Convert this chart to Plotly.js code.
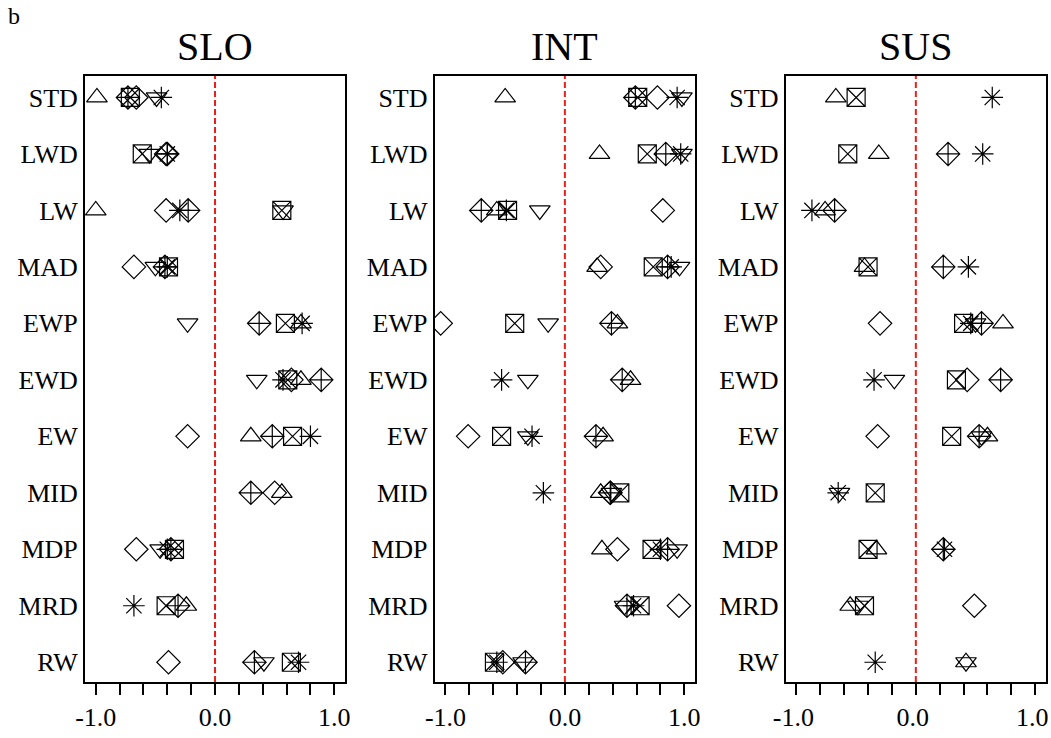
<!DOCTYPE html>
<html>
<head>
<meta charset="utf-8">
<script src="https://cdn.plot.ly/plotly-3.0.1.min.js"></script>
<style>
  html, body { margin: 0; padding: 0; background: #fff; }
  #chart { width: 1051px; height: 738px; }
</style>
</head>
<body>
<div id="chart"></div>
<script>
// Rows shown top to bottom in every panel
const categories = ['STD', 'LWD', 'LW', 'MAD', 'EWP', 'EWD', 'EW', 'MID', 'MDP', 'MRD', 'RW'];

// Panel titles
const panels = ['SLO', 'INT', 'SUS'];

// Bottom axis ticks and their labels
const tickValues = [-1.0, -0.8, -0.6, -0.4, -0.2, 0.0, 0.2, 0.4, 0.6, 0.8, 1.0];
const tickLabels = ['-1.0', '', '', '', '', '0.0', '', '', '', '', '1.0'];

// Correlation values per marker series (null = not shown), order follows categories
// SLO
const sloTriUp       = [-0.99, null, -1.00, null, 0.72, 0.72, 0.30, 0.56, null, -0.24, null];
const sloTriDown     = [-0.49, -0.55, 0.57, -0.50, -0.23, 0.35, null, null, -0.46, null, 0.41];
const sloDiamond     = [-0.66, -0.41, -0.41, -0.68, null, 0.64, -0.23, 0.50, -0.66, null, -0.39];
const sloBoxX        = [-0.71, -0.61, 0.56, -0.39, 0.59, 0.61, 0.65, null, -0.34, -0.41, 0.64];
const sloDiamondPlus = [-0.73, -0.40, -0.225, -0.42, 0.37, 0.89, 0.48, 0.30, -0.37, -0.31, 0.33];
const sloStar        = [-0.45, -0.40, -0.295, -0.40, 0.73, 0.57, 0.80, null, -0.40, -0.68, 0.70];
// INT
const intTriUp       = [-0.50, 0.29, -0.57, 0.27, 0.44, 0.55, 0.32, 0.30, 0.31, null, null];
const intTriDown     = [0.98, 0.98, -0.21, 0.96, -0.14, -0.31, -0.31, 0.39, 0.94, 0.50, -0.35];
const intDiamond     = [0.775, null, 0.82, 0.30, -1.04, null, -0.81, 0.38, 0.44, 0.955, -0.52];
const intBoxX        = [0.61, 0.69, -0.48, 0.74, -0.42, null, -0.53, 0.46, 0.73, 0.63, -0.59];
const intDiamondPlus = [0.59, 0.845, -0.70, 0.86, 0.39, 0.48, 0.26, 0.38, 0.86, 0.52, -0.33];
const intStar        = [0.94, 0.97, -0.49, 0.89, null, -0.53, -0.275, -0.18, 0.80, 0.575, -0.57];
// SUS
const susTriUp       = [-0.67, -0.31, -0.76, -0.43, 0.73, null, 0.60, null, -0.33, -0.55, 0.42];
const susTriDown     = [null, null, null, null, 0.50, -0.18, 0.55, -0.64, null, -0.485, 0.42];
const susDiamond     = [null, null, null, null, -0.30, 0.43, -0.32, null, null, 0.49, null];
const susBoxX        = [-0.50, -0.57, null, -0.40, 0.40, 0.34, 0.30, -0.34, -0.40, -0.43, null];
const susDiamondPlus = [null, 0.27, -0.68, 0.23, 0.55, 0.71, 0.53, null, 0.23, null, null];
const susStar        = [0.64, 0.56, -0.87, 0.44, 0.46, -0.35, null, -0.65, 0.24, null, -0.34];

const symbols = ['triangle-up-open', 'triangle-down-open', 'diamond-open',
                 'square-x-open', 'diamond-cross-open', 'asterisk-open'];

const panelSeries = [
  [sloTriUp, sloTriDown, sloDiamond, sloBoxX, sloDiamondPlus, sloStar],
  [intTriUp, intTriDown, intDiamond, intBoxX, intDiamondPlus, intStar],
  [susTriUp, susTriDown, susDiamond, susBoxX, susDiamondPlus, susStar]
];

const serif = 'Liberation Serif, Times New Roman, serif';
const domains = [[0, 0.2706], [0.3639, 0.6348], [0.7291, 1.0]];

const traces = [];
panelSeries.forEach((series, p) => {
  const suffix = p === 0 ? '' : String(p + 1);
  series.forEach((vals, s) => {
    traces.push({
      type: 'scatter',
      mode: 'markers',
      x: vals,
      y: categories,
      xaxis: 'x' + suffix,
      yaxis: 'y' + suffix,
      showlegend: false,
      hoverinfo: 'x+y',
      marker: {
        symbol: symbols[s],
        size: 18,
        color: '#000',
        line: { color: '#000', width: 1.2 }
      }
    });
  });
});

const layout = {
  width: 1051,
  height: 738,
  margin: { l: 85, r: 5, t: 76, b: 56 },
  paper_bgcolor: '#fff',
  plot_bgcolor: '#fff',
  font: { family: serif, color: '#000' },
  shapes: [],
  annotations: [
    {
      text: 'b', xref: 'paper', yref: 'paper', x: -0.074, y: 1.099,
      xanchor: 'center', yanchor: 'middle', showarrow: false,
      font: { family: serif, size: 24, color: '#000' }
    }
  ]
};

panels.forEach((name, p) => {
  const suffix = p === 0 ? '' : String(p + 1);
  layout['xaxis' + suffix] = {
    domain: domains[p],
    anchor: 'y' + suffix,
    range: [-1.09, 1.09],
    tickmode: 'array',
    tickvals: tickValues,
    ticktext: tickLabels,
    ticks: 'outside',
    ticklen: 11,
    tickwidth: 2,
    tickcolor: '#000',
    ticklabeloverflow: 'allow',
    ticklabelshift: p === 2 ? -3 : 0,
    showline: true,
    mirror: true,
    linewidth: 2,
    linecolor: '#000',
    showgrid: false,
    zeroline: false,
    tickfont: { family: serif, size: 26, color: '#000' }
  };
  layout['yaxis' + suffix] = {
    domain: [0, 1],
    anchor: 'x' + suffix,
    type: 'category',
    categoryorder: 'array',
    categoryarray: categories,
    range: [10.35, -0.38],
    ticks: '',
    showline: true,
    mirror: true,
    linewidth: 2,
    linecolor: '#000',
    showgrid: false,
    zeroline: false,
    tickfont: { family: serif, size: 26, color: '#000' }
  };
  // zero reference line
  layout.shapes.push({
    type: 'line', layer: 'below',
    xref: 'x' + suffix, yref: 'y' + suffix + ' domain',
    x0: 0, x1: 0, y0: 0, y1: 1,
    line: { color: '#e8201c', width: 2, dash: '6px,3px' }
  });
  // panel title
  layout.annotations.push({
    text: name, xref: 'paper', yref: 'paper',
    x: (domains[p][0] + domains[p][1]) / 2, y: 1.048,
    xanchor: 'center', yanchor: 'middle', showarrow: false,
    font: { family: serif, size: 40, color: '#000' }
  });
});

Plotly.newPlot('chart', traces, layout, { displayModeBar: false, staticPlot: true });
</script>
</body>
</html>
